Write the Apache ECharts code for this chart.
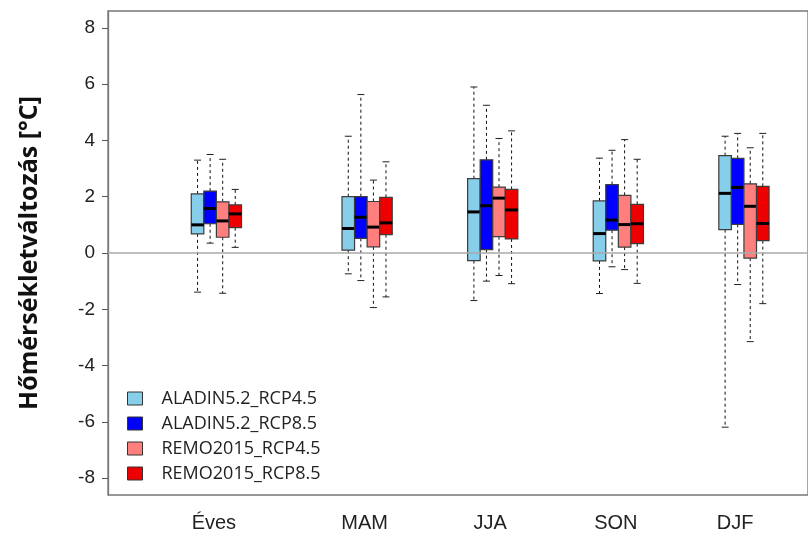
<!DOCTYPE html>
<html>
<head>
<meta charset="utf-8">
<script src="https://cdn.jsdelivr.net/npm/echarts@6/dist/echarts.min.js"></script>
<style>
  html, body { margin: 0; padding: 0; background: #fff; }
  #chart { width: 808px; height: 536px; }
</style>
</head>
<body>
<div id="chart"></div>
<script>
// Seasons / annual mean
const categories = ['Éves', 'MAM', 'JJA', 'SON', 'DJF'];

// Box statistics per category: [min, q1, median, q3, max] (°C)
const aladin45 = [
  [-1.39, 0.68, 1.00, 2.10, 3.30],
  [-0.74, 0.10, 0.87, 2.00, 4.15],
  [-1.69, -0.27, 1.46, 2.64, 5.90],
  [-1.44, -0.28, 0.69, 1.85, 3.37],
  [-6.19, 0.83, 2.12, 3.46, 4.15]
];
const aladin85 = [
  [0.35, 1.04, 1.58, 2.20, 3.50],
  [-0.98, 0.52, 1.27, 2.00, 5.63],
  [-1.00, 0.12, 1.68, 3.31, 5.25],
  [-0.49, 0.81, 1.17, 2.43, 3.65],
  [-1.12, 1.02, 2.33, 3.36, 4.25]
];
const remo45 = [
  [-1.43, 0.56, 1.14, 1.82, 3.33],
  [-1.94, 0.22, 0.92, 1.83, 2.59],
  [-0.80, 0.58, 1.95, 2.34, 4.07],
  [-0.59, 0.21, 1.01, 2.05, 4.03],
  [-3.15, -0.18, 1.66, 2.46, 3.74]
];
const remo85 = [
  [0.20, 0.90, 1.39, 1.71, 2.26],
  [-1.56, 0.65, 1.07, 1.98, 3.24],
  [-1.09, 0.50, 1.53, 2.26, 4.34],
  [-1.08, 0.33, 1.04, 1.73, 3.33],
  [-1.80, 0.44, 1.05, 2.37, 4.25]
];

const seriesNames = ['ALADIN5.2_RCP4.5', 'ALADIN5.2_RCP8.5', 'REMO2015_RCP4.5', 'REMO2015_RCP8.5'];
const yTicks = [-8, -6, -4, -2, 0, 2, 4, 6, 8];

// Layout: group centres on the x scale, label anchors, box width
const groupPos = [0.8, 2, 3, 4, 5];
const labelPos = [0.78, 1.98, 2.98, 3.98, 4.93];
const boxWidth = 0.1;
const colors = ['#87CEEB', '#0000FF', '#FF7F7F', '#EE0000'];
const allStats = [aladin45, aladin85, remo45, remo85];

function makeRender(color) {
  return function (params, api) {
    const x = api.value(0);
    const mn = api.value(1), q1 = api.value(2), md = api.value(3), q3 = api.value(4), mx = api.value(5);
    const w = api.size([boxWidth, 0])[0];
    const pMin = api.coord([x, mn]);
    const pQ1 = api.coord([x, q1]);
    const pMd = api.coord([x, md]);
    const pQ3 = api.coord([x, q3]);
    const pMax = api.coord([x, mx]);
    const cx = pMin[0];
    const cap = 3.5;
    const dash = { stroke: '#111', lineWidth: 1, lineDash: [3, 3] };
    const capStyle = { stroke: '#222', lineWidth: 1 };
    return {
      type: 'group',
      children: [
        { type: 'line', shape: { x1: cx, y1: pQ3[1], x2: cx, y2: pMax[1] }, style: dash },
        { type: 'line', shape: { x1: cx, y1: pQ1[1], x2: cx, y2: pMin[1] }, style: dash },
        { type: 'line', shape: { x1: cx - cap, y1: pMax[1], x2: cx + cap, y2: pMax[1] }, style: capStyle },
        { type: 'line', shape: { x1: cx - cap, y1: pMin[1], x2: cx + cap, y2: pMin[1] }, style: capStyle },
        { type: 'rect', shape: { x: cx - w / 2, y: pQ3[1], width: w, height: pQ1[1] - pQ3[1] },
          style: { fill: color, stroke: '#3c3c3c', lineWidth: 1.2 } },
        { type: 'line', shape: { x1: cx - w / 2, y1: pMd[1], x2: cx + w / 2, y2: pMd[1] },
          style: { stroke: '#000', lineWidth: 3 } }
      ]
    };
  };
}

const boxSeries = seriesNames.map(function (name, s) {
  const offset = (s - 1.5) * boxWidth;
  return {
    name: name,
    type: 'custom',
    z: 3,
    itemStyle: { color: colors[s], borderColor: '#333', borderWidth: 1 },
    encode: { x: 0, y: [1, 2, 3, 4, 5] },
    renderItem: makeRender(colors[s]),
    data: allStats[s].map(function (st, i) {
      return [groupPos[i] + offset].concat(st);
    })
  };
});

// Zero reference line behind the boxes
const zeroLine = {
  name: 'zero',
  type: 'line',
  data: [],
  z: 1,
  markLine: {
    silent: true,
    symbol: ['none', 'none'],
    label: { show: false },
    lineStyle: { color: '#aaaaaa', width: 1.5, type: 'solid' },
    data: [{ yAxis: 0 }]
  }
};

const chart = echarts.init(document.getElementById('chart'), null, { renderer: 'canvas' });
chart.setOption({
  animation: false,
  backgroundColor: '#fff',
  grid: {
    left: 108, top: 11, right: -5, bottom: 41,
    show: true, borderColor: '#777', borderWidth: 1.3, backgroundColor: 'transparent'
  },
  legend: {
    orient: 'vertical',
    left: 127, top: 389,
    padding: 0,
    itemWidth: 15, itemHeight: 13, itemGap: 6,
    icon: 'rect',
    data: seriesNames.map(function (n, i) {
      return { name: n, itemStyle: { color: colors[i], borderColor: '#333', borderWidth: 1 } };
    }),
    textStyle: { fontFamily: 'Open Sans', fontSize: 18, lineHeight: 19, color: '#222', padding: [0, 0, 0, 14] }
  },
  xAxis: {
    type: 'value',
    min: -0.063, max: 5.51,
    axisLine: { show: false },
    axisTick: { show: false },
    splitLine: { show: false },
    axisLabel: {
      customValues: labelPos,
      margin: 18,
      fontFamily: 'Liberation Sans',
      fontSize: 20,
      color: '#222',
      formatter: function (v) {
        for (let i = 0; i < labelPos.length; i++) {
          if (Math.abs(labelPos[i] - v) < 1e-6) return categories[i];
        }
        return '';
      }
    }
  },
  yAxis: {
    type: 'value',
    min: -8.6, max: 8.6,
    name: 'Hőmérsékletváltozás [°C]',
    nameLocation: 'middle',
    nameGap: 66,
    nameTextStyle: { fontFamily: 'Open Sans', fontWeight: 'bold', fontSize: 25, color: '#111' },
    axisLine: { show: true, onZero: false, lineStyle: { color: '#777', width: 1.3 } },
    axisTick: { show: true, length: 6, customValues: yTicks, lineStyle: { color: '#555' } },
    splitLine: { show: false },
    axisLabel: {
      customValues: yTicks,
      margin: 13,
      fontFamily: 'Liberation Sans',
      fontSize: 19,
      color: '#222'
    }
  },
  series: [zeroLine].concat(boxSeries)
});
</script>
</body>
</html>
